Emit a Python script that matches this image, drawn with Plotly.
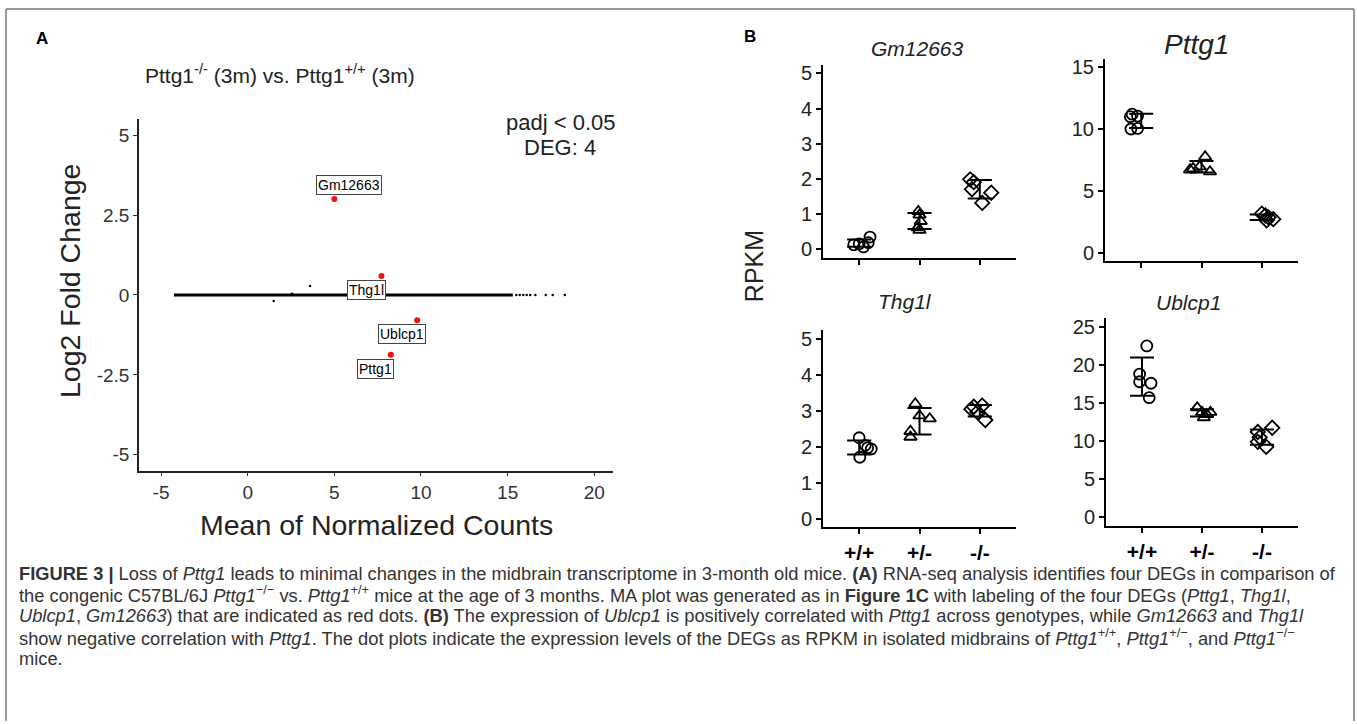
import numpy as np
import plotly.graph_objects as go

W, H = 1357, 724
FONT = "Liberation Sans, Arial, Helvetica, sans-serif"

# ---------------- Panel A data (MA plot) ----------------
# dense band of unchanged genes (drawn as a thick band along LFC = 0)
MA_BAND_MEAN = [-4.25, 15.3]
MA_BAND_LFC = [0.0, 0.0]
# individually visible non-significant genes
MA_SPARSE_MEAN = [15.5, 15.7, 15.9, 16.1, 16.3, 16.6, 17.2, 17.6, 18.3, 3.6, 1.5, 2.55]
MA_SPARSE_LFC = [0, 0, 0, 0, 0, 0, 0, 0, 0, 0.28, -0.19, 0.04]
# significant DEGs (red)
DEG_GENES = ["Gm12663", "Thg1l", "Ublcp1", "Pttg1"]
DEG_MEAN = [5.0, 7.72, 9.78, 8.26]
DEG_LFC = [3.0, 0.59, -0.79, -1.87]

# ---------------- Panel B data (RPKM dot plots) ----------------
GENOTYPES = ["+/+", "+/-", "-/-"]
GM12663_RPKM = [[0.13, 0.07, 0.19, 0.35, 0.16],
                [1.08, 0.98, 0.80, 0.62, 0.55],
                [1.99, 1.91, 1.71, 1.32, 1.61]]
PTTG1_RPKM = [[11.0, 11.2, 11.05, 10.0, 10.05],
              [7.75, 6.8, 6.95, 6.55, 6.7],
              [3.15, 3.0, 2.85, 2.7, 2.6]]
THG1L_RPKM = [[2.26, 1.72, 1.98, 1.95, 2.05],
              [3.2, 2.44, 2.28, 2.87, 2.79],
              [3.05, 3.12, 3.15, 2.75, 2.97]]
UBLCP1_RPKM = [[22.5, 18.8, 17.8, 17.6, 15.7],
               [14.4, 13.8, 13.8, 13.1, 13.5],
               [11.75, 11.2, 10.5, 9.9, 9.25]]

# horizontal spread of dots within each genotype column (layout only)
JIT_GM = [[-0.09, 0.07, 0.15, 0.18, 0.0], [-0.02, 0.0, 0.02, -0.03, 0.0], [-0.16, -0.1, -0.13, 0.04, 0.19]]
JIT_PT = [[-0.18, -0.15, -0.06, -0.17, -0.06], [0.06, -0.14, -0.03, 0.14, -0.19], [0.0, 0.06, 0.11, 0.19, 0.08]]
JIT_TH = [[0.0, 0.01, 0.14, 0.2, 0.1], [-0.07, -0.15, -0.15, 0.0, 0.17], [-0.14, -0.1, 0.04, 0.09, -0.04]]
JIT_UB = [[0.08, -0.04, -0.04, 0.15, 0.12], [-0.08, 0.0, 0.14, 0.03, 0.08], [0.17, -0.07, -0.04, -0.07, 0.07]]

SYMBOLS = ["circle-open", "triangle-up-open", "diamond-open"]


def fx(px):
    return px / W


def fy(py):
    return 1 - py / H


fig = go.Figure()

# ---------- Panel A traces ----------
fig.add_trace(go.Scatter(x=MA_BAND_MEAN, y=MA_BAND_LFC, mode="lines",
                         line=dict(color="black", width=3), xaxis="x", yaxis="y",
                         showlegend=False, hoverinfo="skip"))
fig.add_trace(go.Scatter(x=MA_SPARSE_MEAN, y=MA_SPARSE_LFC, mode="markers",
                         marker=dict(color="black", size=2.5), xaxis="x", yaxis="y",
                         showlegend=False))
fig.add_trace(go.Scatter(x=DEG_MEAN, y=DEG_LFC, mode="markers", text=DEG_GENES,
                         marker=dict(color="#ee1111", size=6), xaxis="x", yaxis="y",
                         showlegend=False))

# ---------- Panel B traces ----------
panels = [
    ("Gm12663", GM12663_RPKM, JIT_GM, "x2", "y2"),
    ("Pttg1", PTTG1_RPKM, JIT_PT, "x3", "y3"),
    ("Thg1l", THG1L_RPKM, JIT_TH, "x4", "y4"),
    ("Ublcp1", UBLCP1_RPKM, JIT_UB, "x5", "y5"),
]
CAP = 0.2
for name, groups, jit, xa, ya in panels:
    ex, ey = [], []
    for gi, vals in enumerate(groups):
        v = np.array(vals, dtype=float)
        xs = gi + np.array(jit[gi])
        fig.add_trace(go.Scatter(x=xs, y=v, mode="markers", xaxis=xa, yaxis=ya,
                                 marker=dict(symbol=SYMBOLS[gi], size=11, color="black",
                                             line=dict(color="black", width=1.8)),
                                 showlegend=False, name=f"{name} {GENOTYPES[gi]}"))
        m, s = v.mean(), v.std(ddof=1)
        ex += [gi - CAP, gi + CAP, None, gi - CAP, gi + CAP, None, gi, gi, None]
        ey += [m + s, m + s, None, m - s, m - s, None, m - s, m + s, None]
    fig.add_trace(go.Scatter(x=ex, y=ey, mode="lines", xaxis=xa, yaxis=ya,
                             line=dict(color="black", width=2), showlegend=False,
                             hoverinfo="skip"))

# ---------- Axes ----------
axA = dict(showline=True, linecolor="#222", linewidth=1.5, ticks="outside", ticklen=4,
           tickcolor="#333", tickwidth=1.2, showgrid=False, zeroline=False,
           tickfont=dict(family=FONT, size=19, color="#333"))
fig.update_layout(
    xaxis=dict(domain=[fx(139), fx(613)], range=[-6.27, 21.08], anchor="y",
               tickvals=[-5, 0, 5, 10, 15, 20],
               ticktext=["-5", "0", "5", "10", "15", "20"], **axA),
    yaxis=dict(domain=[fy(472), fy(118)], range=[-5.5, 5.5], anchor="x",
               tickvals=[-5, -2.5, 0, 2.5, 5], ticktext=["-5", "-2.5", "0", "2.5", "5"], **axA),
)

axB = dict(showline=True, linecolor="black", linewidth=2, ticks="outside", ticklen=5,
           tickcolor="black", tickwidth=1.5, showgrid=False, zeroline=False,
           tickfont=dict(family=FONT, size=20, color="#222"))
axB_nofont = {k: v for k, v in axB.items() if k != "tickfont"}
bx = dict(range=[-0.6, 2.6], tickvals=[0, 1, 2], ticktext=GENOTYPES)
bold_ticks = dict(family=FONT, size=21, color="black", weight="bold")
fig.update_layout(
    xaxis2=dict(domain=[fx(823), fx(1016)], anchor="y2", showticklabels=False, **bx, **axB),
    yaxis2=dict(domain=[fy(258), fy(63)], anchor="x2", range=[-0.25, 5.25],
                tickvals=[0, 1, 2, 3, 4, 5], **axB),
    xaxis3=dict(domain=[fx(1105), fx(1298)], anchor="y3", showticklabels=False, **bx, **axB),
    yaxis3=dict(domain=[fy(261), fy(57)], anchor="x3", range=[-0.7, 15.7],
                tickvals=[0, 5, 10, 15], **axB),
    xaxis4=dict(domain=[fx(823), fx(1016)], anchor="y4", showticklabels=True, **bx,
                **axB_nofont, tickfont=bold_ticks),
    yaxis4=dict(domain=[fy(529), fy(330)], anchor="x4", range=[-0.22, 5.25],
                tickvals=[0, 1, 2, 3, 4, 5], **axB),
    xaxis5=dict(domain=[fx(1106), fx(1298)], anchor="y5", showticklabels=True, **bx,
                **axB_nofont, tickfont=bold_ticks),
    yaxis5=dict(domain=[fy(528), fy(318)], anchor="x5", range=[-1.2, 26.2],
                tickvals=[0, 5, 10, 15, 20, 25], **axB),
)

ann = []


def paper_text(x, y, text, size, **kw):
    d = dict(x=fx(x), y=fy(y), xref="paper", yref="paper", text=text, showarrow=False,
             font=dict(family=FONT, size=size, color=kw.pop("color", "black")),
             xanchor=kw.pop("xanchor", "center"), yanchor=kw.pop("yanchor", "middle"))
    d.update(kw)
    ann.append(d)


# panel letters
paper_text(42, 37, "<b>A</b>", 17)
paper_text(750, 35, "<b>B</b>", 17)
# panel A titles
paper_text(143, 72, "Pttg1<sup>-/-</sup> (3m) vs. Pttg1<sup>+/+</sup> (3m)", 21, xanchor="left", color="#222")
paper_text(376, 527, "Mean of Normalized Counts", 28.5, color="#222")
paper_text(70, 281, "Log2 Fold Change", 28.5, textangle=-90, color="#222")
paper_text(560, 121, "padj < 0.05", 22, color="#222")
paper_text(560, 147, "DEG: 4", 22, color="#222")

# DEG labels (label boxes offset from points)
for g, mx, lf in zip(DEG_GENES, DEG_MEAN, DEG_LFC):
    up = lf > 2
    ann.append(dict(x=mx, y=lf, xref="x", yref="y", text=g, showarrow=False,
                    xshift=15 if up else -15, yshift=14 if up else -14,
                    font=dict(family=FONT, size=14, color="black"),
                    bgcolor="white", bordercolor="#444", borderwidth=1, borderpad=1))

# panel B titles
paper_text(917, 47, "<i>Gm12663</i>", 21, color="#222")
paper_text(1196, 43, "<i>Pttg1</i>", 28, color="#222")
paper_text(905, 302, "<i>Thg1l</i>", 21, color="#222")
paper_text(1188, 303, "<i>Ublcp1</i>", 21, color="#222")
paper_text(754, 266, "RPKM", 25, textangle=-90, color="#222")

# caption
CAP_LINES = [
    "<b>FIGURE 3 |</b> Loss of <i>Pttg1</i> leads to minimal changes in the midbrain transcriptome in 3-month old mice. "
    "<b>(A)</b> RNA-seq analysis identifies four DEGs in comparison of",
    "the congenic C57BL/6J <i>Pttg1</i><sup>−/−</sup> vs. <i>Pttg1</i><sup>+/+</sup> mice at the age of 3 months. "
    "MA plot was generated as in <b>Figure 1C</b> with labeling of the four DEGs (<i>Pttg1</i>, <i>Thg1l</i>,",
    "<i>Ublcp1</i>, <i>Gm12663</i>) that are indicated as red dots. <b>(B)</b> The expression of <i>Ublcp1</i> "
    "is positively correlated with <i>Pttg1</i> across genotypes, while <i>Gm12663</i> and <i>Thg1l</i>",
    "show negative correlation with <i>Pttg1</i>. The dot plots indicate the expression levels of the DEGs as RPKM "
    "in isolated midbrains of <i>Pttg1</i><sup>+/+</sup>, <i>Pttg1</i><sup>+/−</sup>, and <i>Pttg1</i><sup>−/−</sup>",
    "mice.",
]
for i, line in enumerate(CAP_LINES):
    paper_text(17, 575 + i * 21.6, line, 18.3, xanchor="left", color="#333")

fig.update_layout(
    annotations=ann,
    shapes=[
        dict(type="line", xref="paper", yref="paper", x0=fx(6), x1=fx(1354), y0=fy(7), y1=fy(7),
             line=dict(color="#777", width=1.5)),
        dict(type="line", xref="paper", yref="paper", x0=fx(6), x1=fx(6), y0=fy(7), y1=0,
             line=dict(color="#777", width=1.5)),
        dict(type="line", xref="paper", yref="paper", x0=fx(1354), x1=fx(1354), y0=fy(7), y1=0,
             line=dict(color="#777", width=1.5)),
    ],
    width=W, height=H, margin=dict(l=0, r=0, t=0, b=0),
    paper_bgcolor="white", plot_bgcolor="white", showlegend=False,
    font=dict(family=FONT),
)

fig.write_html("out.html", config={"displayModeBar": False},
               post_script="document.body.style.margin='0';document.body.style.padding='0';"
                           "document.body.style.overflow='hidden';")
